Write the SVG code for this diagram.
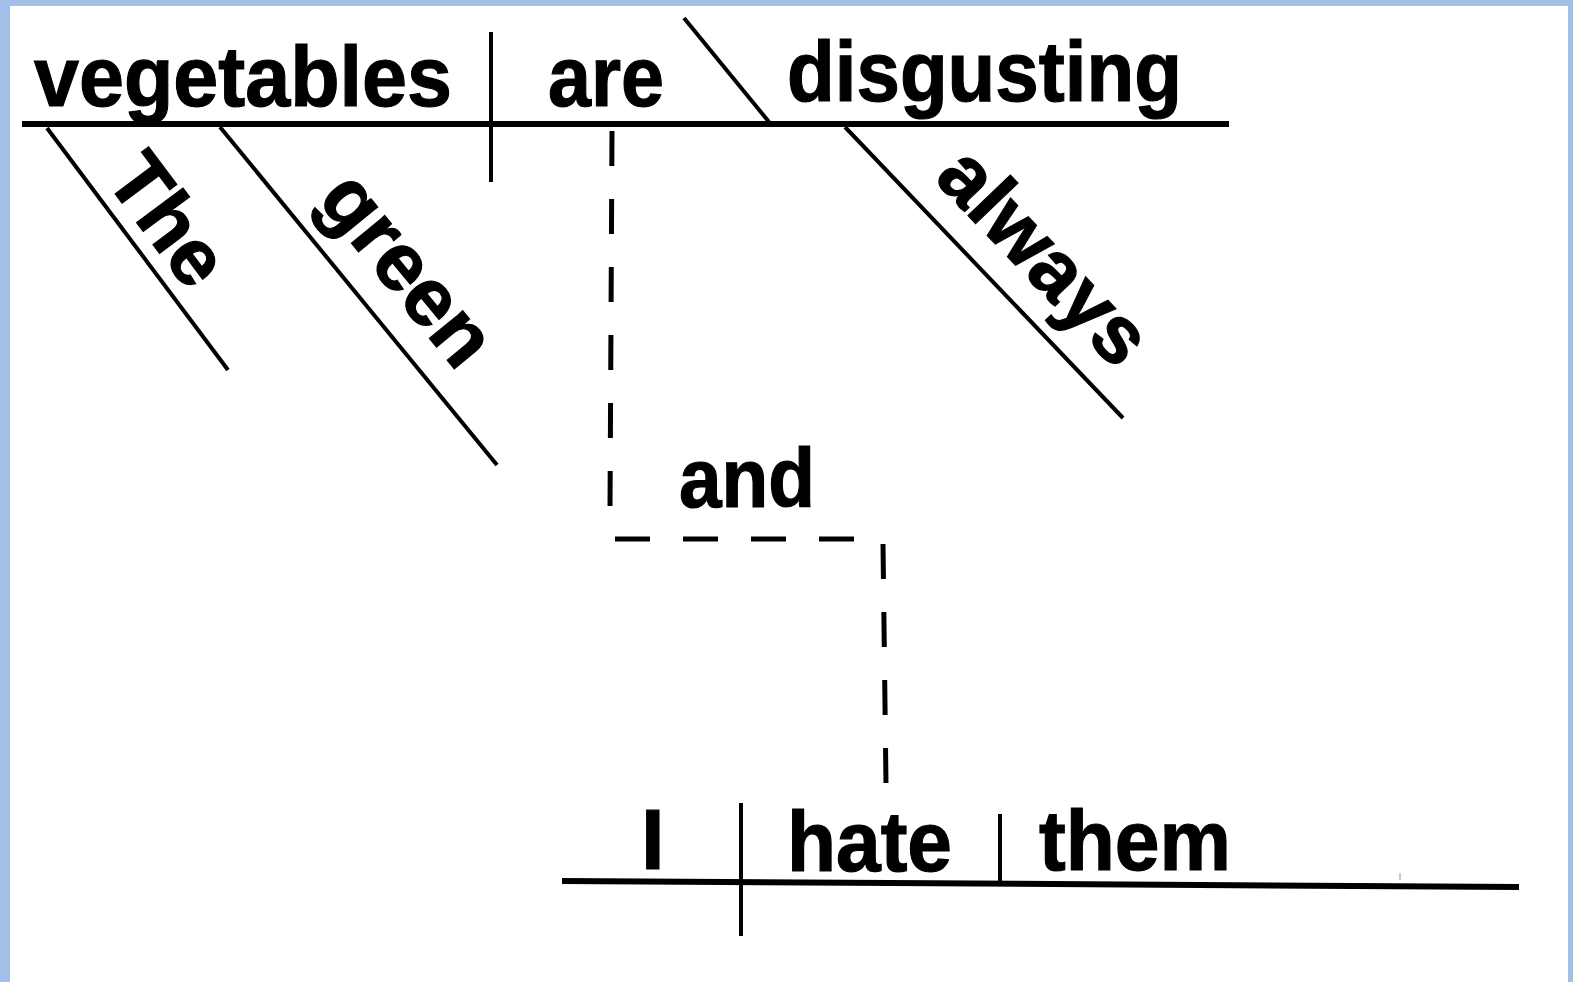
<svg xmlns="http://www.w3.org/2000/svg" width="1573" height="982" viewBox="0 0 1573 982">
<style>
.w{font-family:"Liberation Sans",Arial,Helvetica,sans-serif;font-weight:bold;fill:#000;stroke:#000;stroke-width:1.2}
.ln{stroke:#000;stroke-width:6;fill:none}
.thin{stroke:#000;stroke-width:4;fill:none}
.dash{stroke:#000;stroke-width:5;fill:none;stroke-dasharray:35 33}
</style>
<rect x="0" y="0" width="1573" height="982" fill="#a0c0e8"/>
<rect x="10" y="6" width="1558" height="976" fill="#ffffff"/>
<g id="connectors">
<line class="dash" x1="612" y1="131" x2="610" y2="510"/>
<line class="dash" x1="615" y1="539" x2="858" y2="539"/>
<line class="dash" x1="883" y1="544" x2="886" y2="785"/>
</g>
<g id="clause1">
<line class="ln" x1="22" y1="124" x2="1229" y2="124"/>
<line class="thin" x1="491" y1="32" x2="491" y2="182"/>
<line class="thin" x1="684" y1="18" x2="769" y2="122"/>
<text class="w" x="34" y="106" font-size="86" textLength="418" lengthAdjust="spacingAndGlyphs">vegetables</text>
<text class="w" x="548" y="106" font-size="86" textLength="116" lengthAdjust="spacingAndGlyphs">are</text>
<text class="w" x="787" y="101" font-size="86" textLength="395" lengthAdjust="spacingAndGlyphs">disgusting</text>
</g>
<g id="mod-the">
<line class="thin" x1="47" y1="128" x2="228" y2="370"/>
<text class="w" font-size="80" transform="translate(104,179) rotate(53.2)">The</text>
</g>
<g id="mod-green">
<line class="thin" x1="220" y1="127" x2="497" y2="465"/>
<text class="w" font-size="82" transform="translate(316,200) rotate(50.7)">green</text>
</g>
<g id="mod-always">
<line class="thin" x1="845" y1="127" x2="1123" y2="418"/>
<text class="w" font-size="81" transform="translate(933,179) rotate(46.3)">always</text>
</g>
<g id="conj">
<text class="w" x="679" y="507" font-size="84" textLength="136" lengthAdjust="spacingAndGlyphs">and</text>
</g>
<g id="clause2">
<line class="ln" x1="562" y1="881" x2="1519" y2="887"/>
<line class="thin" x1="741" y1="803" x2="741" y2="936"/>
<line class="thin" x1="1000" y1="814" x2="1000" y2="884"/>
<line stroke="#bbb" stroke-width="1.5" x1="1400" y1="873" x2="1400" y2="880"/>
<text class="w" x="641" y="869" font-size="85">I</text>
<text class="w" x="787" y="871" font-size="85" textLength="165" lengthAdjust="spacingAndGlyphs">hate</text>
<text class="w" x="1039" y="870" font-size="85" textLength="192" lengthAdjust="spacingAndGlyphs">them</text>
</g>
</svg>
